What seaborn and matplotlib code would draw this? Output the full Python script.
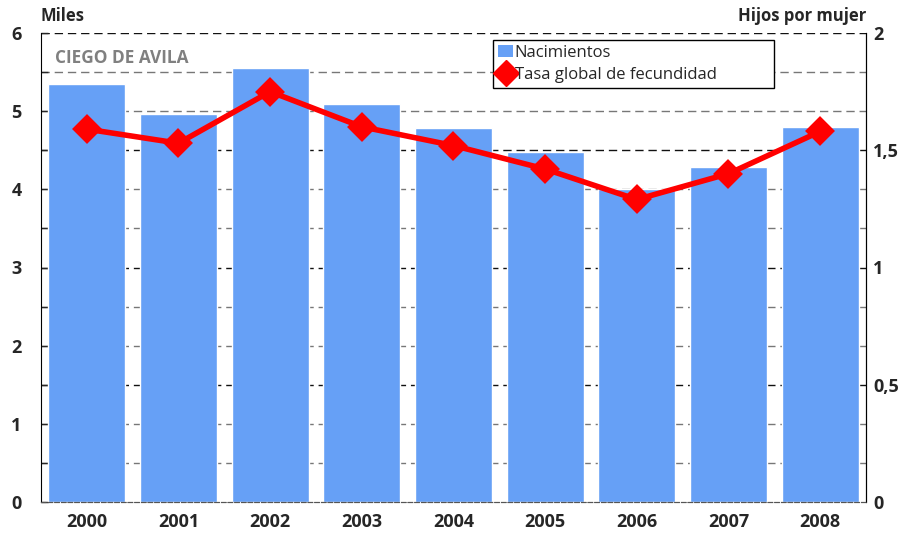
import numpy as np
import pandas as pd
import seaborn as sns
import matplotlib.pyplot as plt
from matplotlib.lines import Line2D
from matplotlib.patches import Patch

# Data
years = ['2000', '2001', '2002', '2003', '2004', '2005', '2006', '2007', '2008']
nacimientos = [5.35, 4.97, 5.55, 5.09, 4.78, 4.48, 4.00, 4.28, 4.80]
tasa_fecundidad = [1.59, 1.53, 1.75, 1.60, 1.52, 1.42, 1.29, 1.40, 1.58]
left_ticks = [0, 1, 2, 3, 4, 5, 6]
right_ticks = [0, 0.5, 1, 1.5, 2]
right_labels = ['0', '0,5', '1', '1,5', '2']

BAR_COLOR = '#66a0f6'
LINE_COLOR = '#ff0000'

sns.set_style('white')
plt.rcParams['font.family'] = ['Open Sans', 'DejaVu Sans']

df = pd.DataFrame({'year': years, 'nac': nacimientos, 'tgf': tasa_fecundidad})

fig = plt.figure(figsize=(9.1, 5.35), dpi=100)
ax = fig.add_axes([0.045, 0.0617, 0.9066, 0.8766])

# Dashed grid every half thousand, drawn behind the bars
# (lines shared with the right axis scale are darker)
for yv in np.arange(0.5, 6.01, 0.5):
    shared = abs(yv / 1.5 - round(yv / 1.5)) < 1e-9
    ax.axhline(yv, color='#111111' if shared else '#777777',
               linestyle=(0, (6, 3.5)), linewidth=1.0, zorder=0)

sns.barplot(data=df, x='year', y='nac', color=BAR_COLOR, width=0.84,
            saturation=1, ax=ax, zorder=2)
ax.set_xlim(-0.5, len(years) - 0.5)
ax.set_ylim(0, 6)
ax.set_yticks(left_ticks)
ax.set_yticks(np.arange(0.5, 6, 1), minor=True)
ax.set_xlabel('')
ax.set_ylabel('')
ax.tick_params(axis='y', which='both', direction='in', length=5, width=1,
               labelsize=13, pad=14)
ax.tick_params(axis='x', length=0, labelsize=13, pad=8)
for lbl in ax.get_yticklabels() + ax.get_xticklabels():
    lbl.set_fontweight('bold')

ax2 = ax.twinx()
sns.pointplot(data=df, x='year', y='tgf', color=LINE_COLOR, markers='D',
              markersize=12, linewidth=4, ax=ax2, zorder=5)
ax2.set_xlim(-0.5, len(years) - 0.5)
ax2.set_ylim(0, 2)
ax2.set_yticks(right_ticks)
ax2.set_yticklabels(right_labels)
ax2.set_ylabel('')
ax2.tick_params(axis='y', direction='in', length=0, labelsize=13, pad=5)
for lbl in ax2.get_yticklabels():
    lbl.set_fontweight('bold')

for a in (ax, ax2):
    a.spines['top'].set_visible(False)
    a.spines['left'].set_color('black')
    a.spines['right'].set_color('black')
    a.spines['bottom'].set_color('#555555')
    a.spines['bottom'].set_linestyle((0, (4, 2)))
ax2.spines['left'].set_visible(False)

fig.text(0.045, 0.953, 'Miles', fontsize=12, fontweight='bold', ha='left', va='bottom')
fig.text(0.952, 0.953, 'Hijos por mujer', fontsize=12, fontweight='bold', ha='right', va='bottom')
ax.text(0.017, 0.965, 'CIEGO DE AVILA', transform=ax.transAxes, fontsize=12.4,
        fontweight='bold', color='#808080', ha='left', va='top')

handles = [Patch(facecolor=BAR_COLOR, edgecolor='none', label='Nacimientos'),
           Line2D([0], [0], color=LINE_COLOR, marker='D', markersize=13,
                  linestyle='-', linewidth=0, label='Tasa global de fecundidad')]
leg = ax2.legend(handles=handles, loc='upper left',
                 bbox_to_anchor=(0.548, 0.985, 0.3406, 0.0), mode='expand',
                 frameon=True, fancybox=False, fontsize=12, handlelength=0.9,
                 handletextpad=0.1, borderpad=0.3, labelspacing=0.35,
                 borderaxespad=0, edgecolor='black', framealpha=1)
leg.get_frame().set_linewidth(1.0)
leg.set_zorder(10)

fig.savefig('out.png', dpi=100)
